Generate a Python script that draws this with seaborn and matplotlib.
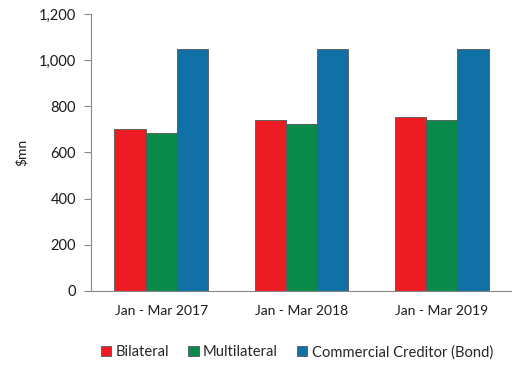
import matplotlib
matplotlib.use("Agg")
import matplotlib.pyplot as plt
import matplotlib.ticker as mticker
import seaborn as sns
import pandas as pd

periods = ["Jan - Mar 2017", "Jan - Mar 2018", "Jan - Mar 2019"]
bilateral = [700, 739, 755]
multilateral = [683, 722, 742]
commercial_bond = [1050, 1050, 1050]
series_names = ["Bilateral", "Multilateral", "Commercial Creditor (Bond)"]
palette = ["#ED1C24", "#0A8A4A", "#1170A6"]

rows = []
for name, vals in zip(series_names, [bilateral, multilateral, commercial_bond]):
    for p, v in zip(periods, vals):
        rows.append({"period": p, "series": name, "value": v})
df = pd.DataFrame(rows)

sns.set_theme(style="white")
plt.rcParams["font.family"] = ["Lato", "DejaVu Sans"]

fig = plt.figure(figsize=(5.12, 3.66), dpi=100)
ax = fig.add_axes([0.178, 0.205, 0.822, 0.757])

sns.barplot(data=df, x="period", y="value", hue="series", palette=palette,
            hue_order=series_names, order=periods, width=0.667, saturation=1,
            edgecolor="#555555", linewidth=0.6, ax=ax, legend=True)

ax.set_xlim(-0.5, 2.5)
ax.set_ylim(0, 1200)
ax.yaxis.set_major_locator(mticker.MultipleLocator(200))
ax.yaxis.set_major_formatter(mticker.FuncFormatter(lambda v, _: f"{int(v):,}"))
ax.set_xticks(range(len(periods)))
ax.set_xticklabels(periods)
ax.set_xticks([-0.5, 0.5, 1.5, 2.5], minor=True)
ax.tick_params(axis="x", which="major", length=0, pad=10, labelsize=10, colors="#1a1a1a")
ax.tick_params(axis="x", which="minor", length=5, width=0.8, color="#888888", direction="out")
ax.tick_params(axis="y", which="major", length=5, width=0.8, color="#888888",
               direction="out", left=True, labelsize=10.5, labelcolor="#1a1a1a", pad=6)

for side in ["top", "right"]:
    ax.spines[side].set_visible(False)
for side in ["left", "bottom"]:
    ax.spines[side].set_color("#888888")
    ax.spines[side].set_linewidth(0.8)

ax.set_xlabel("")
ax.set_ylabel("$mn", fontsize=10, color="#1a1a1a", labelpad=8)

handles, labels = ax.get_legend_handles_labels()
ax.get_legend().remove()
fig.legend(handles, labels, loc="center", bbox_to_anchor=(0.58, 0.038), ncol=3,
           frameon=False, fontsize=10.6, handlelength=0.7, handleheight=0.7,
           handletextpad=0.3, columnspacing=1.3)

fig.savefig("out.png", dpi=100)
